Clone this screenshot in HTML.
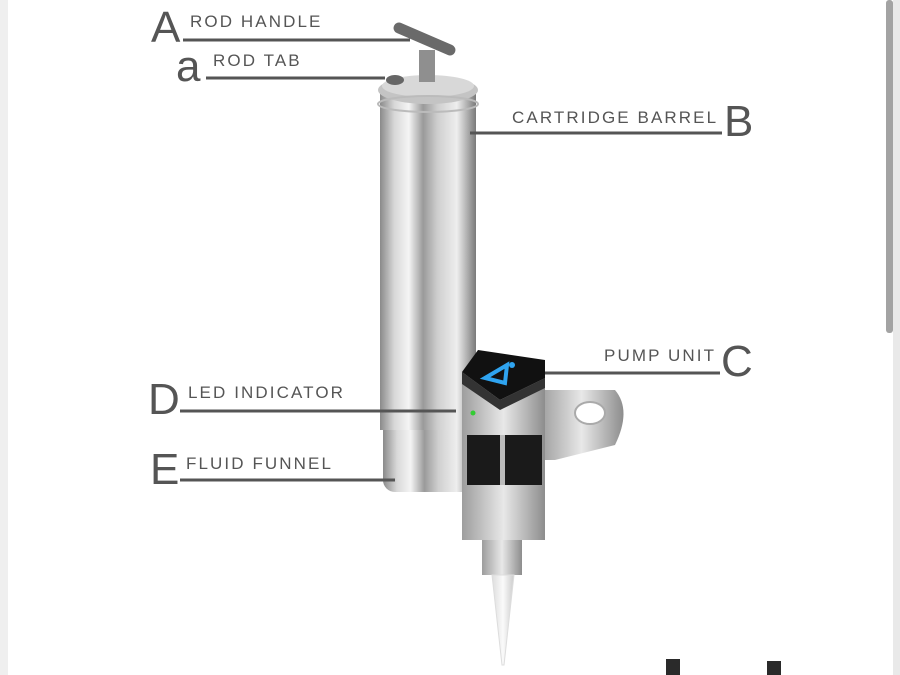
<!DOCTYPE html>
<html><head><meta charset="utf-8"><style>
html,body{margin:0;padding:0;width:900px;height:675px;overflow:hidden;background:#fff}
svg{display:block}
text{font-family:"Liberation Sans",sans-serif;fill:#555}
.lbl{font-size:17px;letter-spacing:2.1px}
.big{font-size:44px}
</style></head><body>
<svg width="900" height="675" viewBox="0 0 900 675">
<defs>
<linearGradient id="met" x1="0" x2="1" y1="0" y2="0">
<stop offset="0" stop-color="#8a8a8a"/><stop offset="0.15" stop-color="#d8d8d8"/>
<stop offset="0.3" stop-color="#f4f4f4"/><stop offset="0.45" stop-color="#9a9a9a"/>
<stop offset="0.6" stop-color="#cfcfcf"/><stop offset="0.8" stop-color="#eeeeee"/>
<stop offset="1" stop-color="#7a7a7a"/></linearGradient>
<linearGradient id="met2" x1="0" x2="1"><stop offset="0" stop-color="#9d9d9d"/><stop offset="0.5" stop-color="#e8e8e8"/><stop offset="1" stop-color="#8d8d8d"/></linearGradient>
<linearGradient id="tip" x1="0" x2="1"><stop offset="0" stop-color="#ddd"/><stop offset="0.5" stop-color="#fafafa"/><stop offset="1" stop-color="#ccc"/></linearGradient>
</defs>
<rect x="0" y="0" width="8" height="675" fill="#efefef"/>
<rect x="893" y="0" width="7" height="675" fill="#e9e9e9"/>
<rect x="886" y="0" width="7" height="333" rx="3" fill="#a3a3a3"/>
<!-- device -->
<rect x="383" y="412" width="92" height="80" rx="12" fill="url(#met)"/>
<rect x="380" y="92" width="96" height="338" fill="url(#met)"/>
<ellipse cx="428" cy="90" rx="50" ry="14" fill="#c4c4c4"/>
<ellipse cx="428" cy="86" rx="46" ry="11" fill="#d8d8d8"/>
<ellipse cx="428" cy="104" rx="50" ry="8" fill="none" stroke="#bbb" stroke-width="2"/>
<rect x="419" y="50" width="16" height="32" fill="#8f8f8f"/>
<path d="M399 28 L450 50" stroke="#6a6a6a" stroke-width="11" stroke-linecap="round"/>
<ellipse cx="395" cy="80" rx="9" ry="5" fill="#666"/>
<path d="M540 390 L615 390 Q632 410 615 445 L555 460 L540 460 Z" fill="url(#met2)"/>
<ellipse cx="590" cy="413" rx="15" ry="11" fill="#fff" stroke="#aaa" stroke-width="2"/>
<rect x="462" y="375" width="83" height="165" fill="url(#met2)"/>
<path d="M462 372 L478 350 L545 360 L545 378 L500 400 Z" fill="#111"/>
<path d="M462 372 L500 400 L545 378 L545 388 L500 410 L462 384Z" fill="#333"/>
<path d="M485 378 L507 365 L505 383 Z" fill="none" stroke="#2fa4f0" stroke-width="4"/>
<circle cx="512" cy="365" r="3" fill="#2fa4f0"/>
<rect x="467" y="435" width="75" height="50" fill="#1a1a1a"/>
<rect x="500" y="435" width="5" height="50" fill="#bbb"/>
<circle cx="473" cy="413" r="2.5" fill="#3c3"/>
<rect x="482" y="540" width="40" height="35" fill="url(#met2)"/>
<path d="M492 575 L514 575 L504 665 L502 665 Z" fill="url(#tip)" stroke="#ddd" stroke-width="1"/>
<rect x="666" y="659" width="14" height="16" fill="#2a2a2a"/>
<rect x="767" y="661" width="14" height="14" fill="#2a2a2a"/>
<!-- callouts -->
<g stroke="#555" stroke-width="3" fill="none">
<line x1="183" y1="40" x2="410" y2="40"/>
<line x1="206" y1="78" x2="385" y2="78"/>
<line x1="470" y1="133" x2="722" y2="133"/>
<line x1="545" y1="373" x2="720" y2="373"/>
<line x1="180" y1="411" x2="456" y2="411"/>
<line x1="180" y1="480" x2="395" y2="480"/>
</g>
<text class="big" x="151" y="42">A</text>
<text class="lbl" x="190" y="27">ROD HANDLE</text>
<text class="big" x="176" y="81">a</text>
<text class="lbl" x="213" y="66">ROD TAB</text>
<text class="lbl" x="512" y="123">CARTRIDGE BARREL</text>
<text class="big" x="724" y="136">B</text>
<text class="lbl" x="604" y="361">PUMP UNIT</text>
<text class="big" x="721" y="376">C</text>
<text class="big" x="148" y="414">D</text>
<text class="lbl" x="188" y="398">LED INDICATOR</text>
<text class="big" x="150" y="484">E</text>
<text class="lbl" x="186" y="469">FLUID FUNNEL</text>
</svg>
</body></html>
